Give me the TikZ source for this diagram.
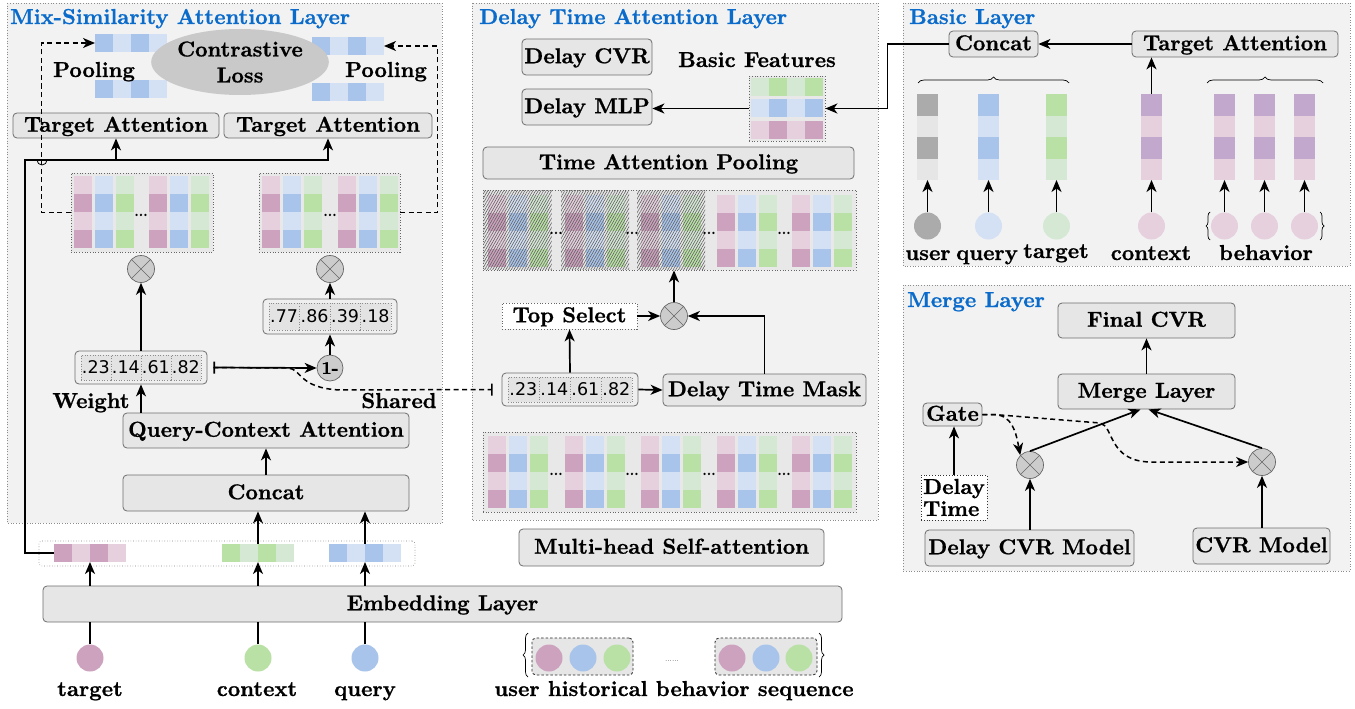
\documentclass[tikz,border=0pt]{standalone}
\usepackage{fontspec}
\newfontfamily\numfont{DejaVu Sans}
\newfontfamily\lmbx[Ligatures=TeX, FakeBold=0.8]{lmroman10-bold.otf}
\usetikzlibrary{arrows.meta,patterns.meta,decorations.pathreplacing,shapes.geometric,calc}

\newcommand\lbf{\fontsize{21.6}{26}\selectfont\lmbx}
\newcommand\numf{\fontsize{17.5}{20}\selectfont\numfont}

\definecolor{panelbg}{HTML}{F2F2F2}
\definecolor{boxbg}{HTML}{E6E6E6}
\definecolor{boxline}{HTML}{6E6E6E}
\definecolor{titleblue}{HTML}{0A6BCB}
\definecolor{pinkD}{HTML}{CDA2BE}
\definecolor{pinkL}{HTML}{E6D0DE}
\definecolor{blueD}{HTML}{A9C4EB}
\definecolor{blueL}{HTML}{D4E1F5}
\definecolor{greenD}{HTML}{B9E0A5}
\definecolor{greenL}{HTML}{D5E8D4}
\definecolor{grayD}{HTML}{ABABAB}
\definecolor{grayL}{HTML}{E6E6E6}
\definecolor{purpD}{HTML}{C3A8CD}
\definecolor{opgray}{HTML}{CCCCCC}
\definecolor{ellgray}{HTML}{C9C9C9}
\definecolor{matbg}{HTML}{E8E8E8}
\definecolor{woutbg}{HTML}{EFEFEF}
\definecolor{wcellbg}{HTML}{E3E3E3}

\tikzset{
  tip/.tip={Stealth[length=12pt,width=10pt,inset=3.5pt]},
  arr/.style={-tip, line width=1.7pt},
  dasharr/.style={arr, dash pattern=on 5pt off 3.5pt, line width=1.5pt},
  conn/.style={line width=1.7pt},
  box/.style={draw=boxline, fill=boxbg, rounded corners=4pt, line width=0.8pt,
    inner sep=0pt, font=\lbf, text height=16pt, text depth=3.5pt},
  panel/.style={draw=black!45, dotted, fill=panelbg, line width=0.7pt},
  ptitle/.style={font=\lbf, text=titleblue, anchor=base west, inner sep=0pt},
  lbl/.style={font=\lbf, anchor=base, inner sep=0pt},
  op/.style={circle, draw=black!60, fill=opgray, minimum size=27pt, inner sep=0pt,
    line width=0.7pt, path picture={
      \draw[black!60, line width=0.6pt]
        (path picture bounding box.north west) -- (path picture bounding box.south east)
        (path picture bounding box.north east) -- (path picture bounding box.south west);}},
  ball/.style={circle, minimum size=27pt, inner sep=0pt},
  vecgrp/.style={inner sep=0pt, outer sep=0pt},
  mat/.style={draw=black!60, dotted, fill=matbg, line width=0.7pt, inner sep=0pt},
  wout/.style={draw=boxline, fill=woutbg, rounded corners=4pt, line width=0.8pt, inner sep=0pt},
  wcell/.style={draw=black!45, dotted, fill=wcellbg, line width=0.6pt, inner sep=0pt},
  dotsf/.style={font=\fontsize{14}{14}\selectfont\lmbx, anchor=base, inner sep=0pt},
  brc/.style={decorate, line width=0.7pt},
  hatch/.style={pattern={Lines[angle=60,distance=2.3pt,line width=0.6pt]}, pattern color=black!62},
}

% horizontal embedding vector: 4 cells of 18x18, dark/light alternating
\newcommand\hvec[5]{%
  \foreach \i/\vc in {0/#4,1/#5,2/#4,3/#5} \fill[\vc] ({#2+18*\i},#3) rectangle ++(18,18);
  \node[vecgrp, minimum width=72pt, minimum height=18pt, anchor=north west] (#1) at (#2,#3) {};}
% vertical embedding vector: 4 cells of 21x21.5
\newcommand\vvec[5]{%
  \foreach \i/\vc in {0/#4,1/#5,2/#4,3/#5} \fill[\vc] (#2,{#3+21.5*\i}) rectangle ++(21,21.5);
  \node[vecgrp, minimum width=21pt, minimum height=86pt, anchor=north west] (#1) at (#2,#3) {};}
% one matrix column: light/dark/light/dark cells
\newcommand\mcol[4]{%
  \foreach \i/\vc in {0/#3,1/#4,2/#3,3/#4} \fill[\vc] (#1,{#2+18*\i}) rectangle ++(18,18);}
% weight vector box with four numbered cells
\newcommand\wbox[9]{%
  \node[wout, minimum width=#4pt, minimum height=#5pt] (#1) at (#2,#3) {};
  \pgfmathsetmacro\cw{(#4-12)/4}
  \pgfmathsetmacro\chh{#5-8}
  \foreach \k/\t in {0/#6,1/#7,2/#8,3/#9}
    \node[wcell, minimum width=\cw pt, minimum height=\chh pt, font=\numf, anchor=west]
      (#1-\k) at ($(#1.west)+(6+\k*\cw,0)$) {\t};}

\begin{document}
\begin{tikzpicture}[x=1pt,y=-1pt]
\path[use as bounding box, fill=white] (0,0) rectangle (1355,709);

% ---------- panels ----------
\draw[panel] (7,3) rectangle (442,523);
\draw[panel] (472,3) rectangle (878,520);
\draw[panel] (903,3) rectangle (1350,266);
\draw[panel] (903,285) rectangle (1350,571);
\node[ptitle] (tMix) at (10,24) {Mix-Similarity Attention Layer};
\node[ptitle] (tDelay) at (479,24) {Delay Time Attention Layer};
\node[ptitle] (tBasic) at (909,24) {Basic Layer};
\node[ptitle] (tMerge) at (907,307) {Merge Layer};

% ---------- Mix-Similarity Attention Layer ----------
\hvec{poolLT}{95}{34}{blueD}{blueL}
\hvec{poolLB}{95}{80}{blueD}{blueL}
\hvec{poolRT}{312}{37}{blueD}{blueL}
\hvec{poolRB}{312}{83}{blueD}{blueL}
\node[ellipse, fill=ellgray, minimum width=140pt, minimum height=66pt, inner sep=0pt,
  font=\lbf, align=center] (closs) at (240,62) {Contrastive\\Loss};
\node[lbl] (plL) at (94,77) {Pooling};
\node[lbl] (plR) at (386,77) {Pooling};

\node[box, minimum width=206pt, minimum height=25pt] (taL) at (116,125.5) {Target Attention};
\node[box, minimum width=208pt, minimum height=25pt] (taR) at (328,125.5) {Target Attention};

\node[mat, minimum width=142pt, minimum height=79pt] (matL) at (142,212.5) {};
\mcol{74}{176}{pinkL}{pinkD}\mcol{95}{176}{blueL}{blueD}\mcol{116}{176}{greenL}{greenD}
\mcol{149}{176}{pinkL}{pinkD}\mcol{170}{176}{blueL}{blueD}\mcol{191}{176}{greenL}{greenD}
\node[dotsf] (dL) at (141,216) {...};
\node[mat, minimum width=141pt, minimum height=79pt] (matR) at (329.5,212.5) {};
\mcol{262}{176}{pinkL}{pinkD}\mcol{283}{176}{blueL}{blueD}\mcol{304}{176}{greenL}{greenD}
\mcol{338}{176}{pinkL}{pinkD}\mcol{359}{176}{blueL}{blueD}\mcol{380}{176}{greenL}{greenD}
\node[dotsf] (dR) at (330,216) {...};

\node[op] (opL) at (141,269) {};
\node[op] (opR) at (330,269) {};

\wbox{wR}{330}{316.5}{134}{35}{.77}{.86}{.39}{.18}
\wbox{wL}{141}{367.5}{132}{33}{.23}{.14}{.61}{.82}
\node[ball, draw=black!60, fill=opgray, minimum size=26pt, line width=0.7pt,
  font=\fontsize{18}{18}\selectfont\lmbx] (om) at (330,368) {1-};

\node[lbl] (lw) at (91,408) {Weight};
\node[lbl] (ls) at (399,408) {Shared};

\node[box, minimum width=286pt, minimum height=35pt] (qca) at (266,430.5) {Query-Context Attention};
\node[box, minimum width=286pt, minimum height=36pt] (cat) at (266,493) {Concat};

\node[draw=black!50, dotted, rounded corners=3pt, minimum width=376pt, minimum height=25pt,
  inner sep=0pt, line width=0.6pt] (embrow) at (227,553.5) {};
\hvec{tvec}{54}{544}{pinkD}{pinkL}
\hvec{cvec}{222}{544}{greenD}{greenL}
\hvec{qvec}{329}{544}{blueD}{blueL}

\node[box, minimum width=799pt, minimum height=36pt] (emb) at (442.5,604) {Embedding Layer};
\node[ball, fill=pinkD] (ctg) at (90,658) {};
\node[ball, fill=greenD] (ccx) at (258,658) {};
\node[ball, fill=blueD] (cqr) at (365,658) {};
\node[lbl] (ltg) at (90,696) {target};
\node[lbl] (lcx) at (257,696) {context};
\node[lbl] (lqr) at (365,696) {query};

% connectors of the left panel
\coordinate (bus) at (25,160);
\draw[arr] (tvec.west) -| (bus) -| (taR.south);
\draw[arr] (bus -| taL.south) -- (taL.south);
\draw[dasharr] (matL.west) -- ++(-29,0) |- (poolLT.west);
\draw[line width=0.8pt] (37,160) arc[start angle=180, end angle=0, radius=5];
\draw[dasharr] (matR.east) -- ++(37,0) |- (poolRT.east);
\draw[arr] (wL.north) -- (opL.south);
\draw[arr] (wR.north) -- (opR.south);
\draw[arr] (om.north) -- (wR.south);
\draw[{Bar[width=12pt]}-tip, line width=1.7pt] ([xshift=6pt]wL.east) -- (om.west);
\draw[arr] (qca.north -| wL.south) -- (wL.south);
\draw[arr] (cat.north) -- (qca.south);
\draw[arr] (cvec.north) -- (cvec.north |- cat.south);
\draw[arr] (qvec.north) -- (qvec.north |- cat.south);
\draw[arr] (tvec.south |- emb.north) -- (tvec.south);
\draw[arr] (cvec.south |- emb.north) -- (cvec.south);
\draw[arr] (qvec.south |- emb.north) -- (qvec.south);
\draw[conn] (ctg.north) -- (ctg.north |- emb.south);
\draw[conn] (ccx.north) -- (ccx.north |- emb.south);
\draw[conn] (cqr.north) -- (cqr.north |- emb.south);

% ---------- Delay Time Attention Layer ----------
\node[box, minimum width=130pt, minimum height=36pt] (dcvr) at (587,57) {Delay CVR};
\node[box, minimum width=130pt, minimum height=36pt] (dmlp) at (587,107) {Delay MLP};
\node[lbl] (bflab) at (757,67) {Basic Features};
\node[mat, minimum width=76pt, minimum height=65pt] (bfeat) at (787,108.5) {};
\foreach \ry/\lc/\dc in {78/greenL/greenD, 99/blueL/blueD, 121/pinkL/pinkD}
  \foreach \i/\vc in {0/\lc,1/\dc,2/\lc,3/\dc}
    \fill[\vc] ({751+18*\i},\ry) rectangle ++(18,18);

\node[box, minimum width=371pt, minimum height=32pt] (tap) at (668.5,163) {Time Attention Pooling};

\node[mat, minimum width=373pt, minimum height=80pt] (hmat) at (669.5,230) {};
\node[mat, minimum width=373pt, minimum height=80pt] (lmat) at (669.5,472) {};
\foreach \g in {487.5,565,641,716.5,792}{
  \mcol{\g}{195}{pinkL}{pinkD}\mcol{\g+21}{195}{blueL}{blueD}\mcol{\g+42}{195}{greenL}{greenD}
  \mcol{\g}{436}{pinkL}{pinkD}\mcol{\g+21}{436}{blueL}{blueD}\mcol{\g+42}{436}{greenL}{greenD}
}
\foreach \g in {487.5,565,641}
  \fill[hatch] (\g-4,190.5) rectangle (\g+64,269.5);
\foreach \x [count=\n] in {556,632,709,784}{
  \node[dotsf] (hd\n) at (\x,234) {...};
  \node[dotsf] (ld\n) at (\x,475) {...};
}

\node[op] (opM) at (674,316) {};
\node[box, fill=white, draw=black!60, dotted, rounded corners=0pt, minimum width=135pt,
  minimum height=26pt] (tsel) at (569.5,316) {Top Select};
\wbox{wM}{570}{389.5}{136}{33}{.23}{.14}{.61}{.82}
\node[box, minimum width=203pt, minimum height=32pt] (dtm) at (764.5,390) {Delay Time Mask};
\node[box, minimum width=305pt, minimum height=37pt] (mhsa) at (671.5,547.5) {Multi-head Self-attention};

% user behaviour sequence
\node[draw=black!85, dash pattern=on 2.5pt off 2pt, fill=boxbg, rounded corners=4pt,
  minimum width=101pt, minimum height=37pt, inner sep=0pt, line width=0.8pt] (seqA) at (582.5,656.5) {};
\node[draw=black!85, dash pattern=on 2.5pt off 2pt, fill=boxbg, rounded corners=4pt,
  minimum width=102pt, minimum height=37pt, inner sep=0pt, line width=0.8pt] (seqB) at (766,656.5) {};
\node[ball, fill=pinkD] (sa1) at (549,658) {};
\node[ball, fill=blueD] (sa2) at (583,658) {};
\node[ball, fill=greenD] (sa3) at (617,658) {};
\node[ball, fill=pinkD] (sb1) at (732,658) {};
\node[ball, fill=blueD] (sb2) at (766,658) {};
\node[ball, fill=greenD] (sb3) at (799,658) {};
\node[font=\fontsize{7}{7}\selectfont, anchor=base, inner sep=0pt] (sdots) at (672,661) {......};
\draw[brc, decoration={brace, amplitude=5pt}] (528,677) -- (528,633);
\draw[brc, decoration={brace, amplitude=5pt}] (819,633) -- (819,677);
\node[lbl] (seqlab) at (674,696) {user historical behavior sequence};

% connectors of the middle panel
\draw[arr] (bfeat.west) -- (bfeat.west -| dmlp.east);
\draw[arr] (opM.north) -- (opM.north |- hmat.south);
\draw[arr] (tsel.east) -- (opM.west);
\draw[arr] (dtm.north) |- (opM.east);
\draw[arr] (wM.north) -- (tsel.south);
\draw[arr] (wM.east) -- (dtm.west);
\draw[dash pattern=on 5pt off 3.5pt, line width=1.5pt, -{Bar[width=12pt]}]
  ([xshift=6pt]wL.east) -- (288,368) .. controls (302,369) and (298,388) .. (340,390)
  -- ([xshift=-9pt]wM.west);

% ---------- Basic Layer ----------
\node[box, minimum width=89pt, minimum height=26pt] (bcat) at (993.5,44) {Concat};
\node[box, minimum width=206pt, minimum height=26pt] (bta) at (1235,44) {Target Attention};
\draw[brc, decoration={brace, amplitude=6pt}] (918,83) -- (1069,83);
\draw[brc, decoration={brace, amplitude=6pt}] (1207,83) -- (1323,83);
\vvec{vu}{917}{94}{grayD}{grayL}
\vvec{vq}{978}{94}{blueD}{blueL}
\vvec{vt}{1046}{94}{greenD}{greenL}
\vvec{vc}{1141}{94}{purpD}{pinkL}
\vvec{vb1}{1214}{94}{purpD}{pinkL}
\vvec{vb2}{1254}{94}{purpD}{pinkL}
\vvec{vb3}{1294}{94}{purpD}{pinkL}
\node[ball, fill=grayD] (cu) at (927.5,226) {};
\node[ball, fill=blueL] (cq) at (988.5,226) {};
\node[ball, fill=greenL] (ct) at (1056.5,226) {};
\node[ball, fill=pinkL] (cc) at (1151.5,226) {};
\node[ball, fill=pinkL] (cb1) at (1224.5,226) {};
\node[ball, fill=pinkL] (cb2) at (1264.5,226) {};
\node[ball, fill=pinkL] (cb3) at (1304.5,226) {};
\draw[brc, decoration={brace, amplitude=4pt}] (1210,240) -- (1210,212);
\draw[brc, decoration={brace, amplitude=4pt}] (1320,212) -- (1320,240);
\node[lbl] (lu) at (928,260) {user};
\node[lbl] (lq) at (987,260) {query};
\node[lbl] (lt) at (1056,258) {target};
\node[lbl] (lc) at (1151,260) {context};
\node[lbl] (lb) at (1266,260) {behavior};

\draw[arr] (bta.west) -- (bcat.east);
\draw[arr] (bcat.west) -- ++(-61,0) |- (bfeat.east);
\draw[arr] (vc.north) -- (vc.north |- bta.south);
\foreach \c/\v in {cu/vu,cq/vq,ct/vt,cc/vc,cb1/vb1,cb2/vb2,cb3/vb3}
  \draw[arr] (\c.north) -- (\v.south);

% ---------- Merge Layer ----------
\node[box, minimum width=177pt, minimum height=35pt] (fcvr) at (1146.5,320.5) {Final CVR};
\node[box, minimum width=177pt, minimum height=35pt] (mrg) at (1146.5,391.5) {Merge Layer};
\node[box, minimum width=59pt, minimum height=23pt] (gate) at (952.5,414.5) {Gate};
\node[draw=black!80, dotted, fill=white, line width=0.8pt, inner sep=0pt, minimum width=66pt,
  minimum height=45pt, align=left, font={\fontsize{21.6}{22}\selectfont\lmbx}] (dtime) at (954,497.5) {Delay\\Time};
\node[box, minimum width=209pt, minimum height=36pt] (dcvrm) at (1029.5,548) {Delay CVR Model};
\node[box, minimum width=137pt, minimum height=36pt] (cvrm) at (1261.5,546) {CVR Model};
\node[op] (opML) at (1030,465) {};
\node[op] (opMR) at (1262,462) {};

\draw[arr] (mrg.north) -- (fcvr.south);
\draw[arr] (dtime.north) -- (dtime.north |- gate.south);
\draw[arr] (opML.south |- dcvrm.north) -- (opML.south);
\draw[arr] (opMR.south |- cvrm.north) -- (opMR.south);
\draw[arr] (opML.north) -- ([xshift=-6pt]mrg.south);
\draw[arr] (opMR.north) -- ([xshift=2pt]mrg.south);
\draw[dasharr] (gate.east) -- (994,414.5) .. controls (1012,415) and (1016,432) .. (opML.north west);
\draw[dasharr] (gate.east) -- (994,414.5) -- (1100,423) .. controls (1114,426) and (1108,461) .. (1150,462)
  -- (opMR.west);
\end{tikzpicture}
\end{document}
